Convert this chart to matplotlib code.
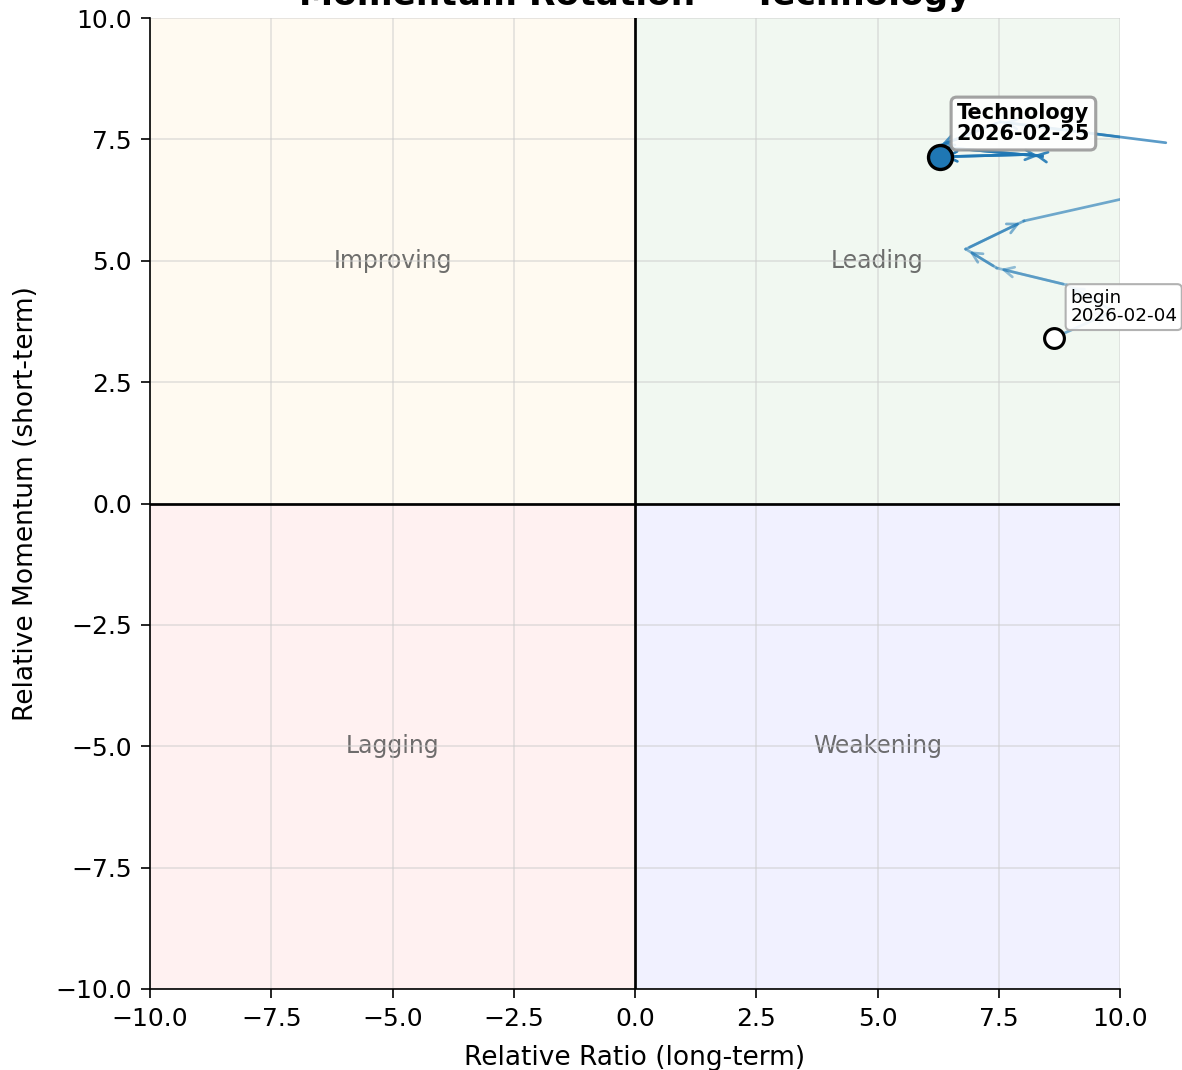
import matplotlib
matplotlib.use("Agg")
import matplotlib.pyplot as plt
import numpy as np

# trail of the sector in (ratio, momentum) space, oldest first
trail_x = [8.63, 9.86, 8.91, 7.46, 6.82, 8.02, 12.40, 11.03, 7.53, 6.23, 8.40, 8.15, 6.29]
trail_y = [3.41, 3.96, 4.50, 4.85, 5.24, 5.82, 6.80, 7.42, 7.86, 7.35, 7.15, 7.19, 7.14]
sector = "Technology"
start_date = "2026-02-04"
end_date = "2026-02-25"

quadrants = ["Leading", "Weakening", "Lagging", "Improving"]
quad_pos = [(5, 5), (5, -5), (-5, -5), (-5, 5)]
quad_col = ["green", "blue", "red", "orange"]

BLUE = "#1f77b4"
DPI = 150
W, H = 1182, 1070

fig = plt.figure(figsize=(W / DPI, H / DPI), dpi=DPI)
ax = fig.add_axes([150 / W, 81 / H, 970 / W, 971 / H])
ax.set_xlim(-10, 10)
ax.set_ylim(-10, 10)

spans = {"Leading": (0, 10, 0, 10), "Weakening": (0, 10, -10, 0),
         "Lagging": (-10, 0, -10, 0), "Improving": (-10, 0, 0, 10)}
for name, (x, y), c in zip(quadrants, quad_pos, quad_col):
    x0, x1, y0, y1 = spans[name]
    ax.fill_between([x0, x1], y0, y1, color=c, alpha=0.055, lw=0, zorder=0)
    ax.text(x, y, name, ha="center", va="center", fontsize=11.3,
            color="#555555", alpha=0.85, zorder=1)

ax.axhline(0, color="black", lw=1.3, zorder=2)
ax.axvline(0, color="black", lw=1.3, zorder=2)
ax.grid(True, color="#cccccc", alpha=0.5, lw=0.9, zorder=0)
ax.set_xticks(np.arange(-10, 10.1, 2.5))
ax.set_yticks(np.arange(-10, 10.1, 2.5))
ax.tick_params(labelsize=12, length=4.3, pad=4.5)
for s in ["top", "right"]:
    ax.spines[s].set_visible(False)

n = len(trail_x)
alphas = np.linspace(0.35, 0.95, n - 1)
for i in range(n - 1):
    ax.plot(trail_x[i:i + 2], trail_y[i:i + 2], color=BLUE, lw=1.3,
            alpha=alphas[i], zorder=3)
    ax.annotate("", xy=(trail_x[i + 1], trail_y[i + 1]),
                xytext=(trail_x[i], trail_y[i]),
                arrowprops=dict(arrowstyle="->", color=BLUE, lw=1.3,
                                mutation_scale=12, alpha=alphas[i]), zorder=3)

ax.plot(trail_x[0], trail_y[0], "o", ms=9.5, mfc="white", mec="black",
        mew=1.5, zorder=5)
ax.plot(trail_x[-1], trail_y[-1], "o", ms=11.5, mfc=BLUE, mec="black",
        mew=1.6, zorder=6)

ax.annotate(f"begin\n{start_date}", xy=(trail_x[0], trail_y[0]),
            xytext=(8, 6), textcoords="offset points", fontsize=8.8,
            ha="left", va="bottom", linespacing=1.05,
            bbox=dict(boxstyle="round,pad=0.25", fc="white", ec="#aaaaaa",
                      alpha=0.9), zorder=7)
ax.annotate(f"{sector}\n{end_date}", xy=(trail_x[-1], trail_y[-1]),
            xytext=(8, 6), textcoords="offset points", fontsize=10,
            fontweight="bold", ha="left", va="bottom", linespacing=1.1,
            bbox=dict(boxstyle="round,pad=0.27", fc="white", ec="#999999",
                      lw=1.5, alpha=0.9), zorder=7)

ax.set_xlabel("Relative Ratio (long-term)", fontsize=12.7, labelpad=6.5)
ax.set_ylabel("Relative Momentum (short-term)", fontsize=12.7, labelpad=7.5)
ax.set_title(f"Momentum Rotation — {sector}", fontsize=16.5, fontweight="bold")

fig.savefig("out.png", dpi=DPI)
